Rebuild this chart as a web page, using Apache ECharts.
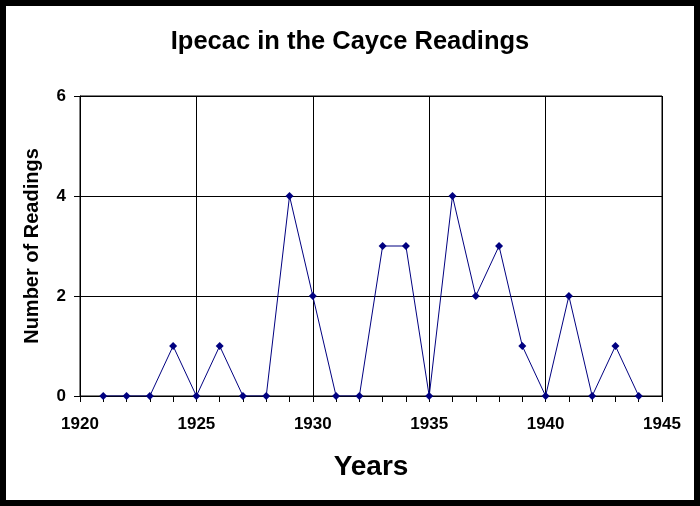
<!DOCTYPE html>
<html>
<head>
<meta charset="utf-8">
<script src="https://cdn.jsdelivr.net/npm/echarts@6/dist/echarts.min.js"></script>
<style>
html,body{margin:0;padding:0;background:#fff;}
#c{width:700px;height:506px;}
</style>
</head>
<body>
<div id="c"></div>
<script>
const years = [1921,1922,1923,1924,1925,1926,1927,1928,1929,1930,1931,1932,1933,1934,1935,1936,1937,1938,1939,1940,1941,1942,1943,1944];
const readings = [0,0,0,1,0,1,0,0,4,2,0,0,3,3,0,4,2,3,1,0,2,0,1,0];
const titleText = 'Ipecac in the Cayce Readings';
const xName = 'Years';
const yName = 'Number of Readings';

const chart = echarts.init(document.getElementById('c'));
const F = 'Liberation Sans, Arial, sans-serif';
chart.setOption({
  backgroundColor: '#fff',
  animation: false,
  title: {
    text: titleText, left: 'center', top: 24,
    textStyle: {fontFamily: F, fontWeight: 'bold', fontSize: 25.5, color: '#000'}
  },
  graphic: [{
    type: 'rect', shape: {x: 3, y: 3, width: 694, height: 500},
    style: {fill: 'none', stroke: '#000', lineWidth: 6}, z: 100
  }],
  grid: {left: 80, right: 38, top: 96, bottom: 110, show: true, borderColor: '#000', borderWidth: 1, backgroundColor: '#fff'},
  xAxis: {
    type: 'value', min: 1920, max: 1945, interval: 5,
    name: xName, nameLocation: 'middle', nameGap: 57,
    nameTextStyle: {fontFamily: F, fontWeight: 'bold', fontSize: 28, color: '#000'},
    axisLine: {show: true, onZero: false, lineStyle: {color: '#000', width: 1}},
    axisTick: {show: true, inside: false, length: 6, lineStyle: {color: '#000'}},
    minorTick: {show: true, splitNumber: 5, length: 6, lineStyle: {color: '#000'}},
    axisLabel: {fontFamily: F, fontWeight: 'bold', fontSize: 17, color: '#000', margin: 20, formatter: v => String(v)},
    splitLine: {show: true, lineStyle: {color: '#000', width: 1}}
  },
  yAxis: {
    type: 'value', min: 0, max: 6, interval: 2,
    name: yName, nameLocation: 'middle', nameGap: 38,
    nameTextStyle: {fontFamily: F, fontWeight: 'bold', fontSize: 20, color: '#000'},
    axisLine: {show: true, lineStyle: {color: '#000', width: 1}},
    axisTick: {show: true, length: 6, lineStyle: {color: '#000'}},
    axisLabel: {fontFamily: F, fontWeight: 'bold', fontSize: 17, color: '#000', margin: 14},
    splitLine: {show: true, lineStyle: {color: '#000', width: 1}}
  },
  series: [{
    type: 'line',
    data: years.map((y, i) => [y, readings[i]]),
    symbol: 'diamond', symbolSize: 8,
    lineStyle: {color: '#000080', width: 1},
    itemStyle: {color: '#000080'},
    z: 10
  }]
});
</script>
</body>
</html>
